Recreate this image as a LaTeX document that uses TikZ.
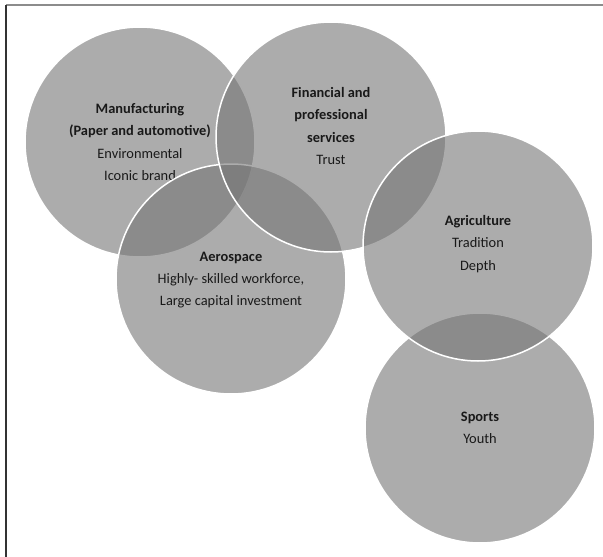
\documentclass[tikz,border=0pt]{standalone}
\usepackage{fontspec}
\setmainfont{Carlito}
\usepackage{tikz}

\begin{document}
\begin{tikzpicture}[x=1pt, y=-1pt,
  sector/.style={circle, minimum size=230pt, inner sep=0pt, draw=white,
    line width=1.5pt, fill=black!54, fill opacity=0.6},
  sectortext/.style={align=center, text opacity=1, text=black!90,
    font=\fontsize{14.4}{22.3}\selectfont}]

  % Fix the page to the size of the picture
  \useasboundingbox (0,0) rectangle (603,557);

  % Frame lines at the top and at the left
  \draw[black!45, line width=1.2pt] (6,5) -- (603,5);
  \draw[black!80, line width=1.2pt] (6,5) -- (6,557);

  % Circles for the sectors, back to front
  \node[sector] (manu) at (140,142) {};
  \node[sectortext] at (manu.center) {\textbf{Manufacturing}\\ \textbf{(Paper and automotive)}\\ Environmental\\ Iconic brand};

  \node[sector] (aero) at (231,279) {};
  \node[sectortext] at ([yshift=-1pt]aero.center) {\textbf{Aerospace}\\ Highly- skilled workforce,\\ Large capital investment};

  \node[sector] (fin) at (331,137) {};
  \node[sectortext] at ([yshift=11pt]fin.center) {\textbf{Financial and}\\ \textbf{professional}\\ \textbf{services}\\ Trust};

  \node[sector] (sport) at (480,428) {};
  \node[sectortext] at (sport.center) {\textbf{Sports}\\ Youth};

  \node[sector] (agri) at (478,246) {};
  \node[sectortext] at ([yshift=2pt]agri.center) {\textbf{Agriculture}\\ Tradition\\ Depth};

\end{tikzpicture}
\end{document}
